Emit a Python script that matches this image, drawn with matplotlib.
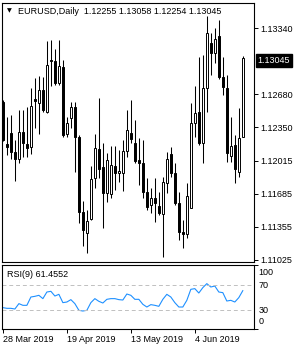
import matplotlib
matplotlib.use('Agg')
import matplotlib.pyplot as plt
import matplotlib.transforms as mtransforms
import numpy as np

# EURUSD daily bars, 28 Mar 2019 .. 20 Jun 2019
opens = [1.12600, 1.12180, 1.12290, 1.12100, 1.12030, 1.12300, 1.12180, 1.12150, 1.12630, 1.12590,
         1.12720, 1.12500, 1.13020, 1.13010, 1.12790, 1.12950, 1.12280, 1.12440, 1.12550, 1.12250,
         1.11500, 1.11290, 1.11430, 1.11840, 1.12130, 1.11950, 1.11690, 1.11680, 1.11960, 1.11890,
         1.11890, 1.12110, 1.12290, 1.12190, 1.12020, 1.11990, 1.11700, 1.11570, 1.11640, 1.11560,
         1.11480, 1.11790, 1.12080, 1.11890, 1.11590, 1.11300, 1.11280, 1.11540, 1.12390, 1.12500,
         1.12190, 1.12740, 1.13190, 1.13090, 1.13260, 1.12850, 1.12740, 1.12060, 1.12170, 1.11900,
         1.12255]
highs = [1.12620, 1.12450, 1.12470, 1.12220, 1.12520, 1.12520, 1.12550, 1.12740, 1.12840, 1.12860,
         1.12850, 1.13210, 1.13220, 1.13130, 1.13220, 1.13020, 1.12450, 1.12600, 1.12600, 1.12270,
         1.11610, 1.11520, 1.11960, 1.12280, 1.12640, 1.12190, 1.12090, 1.12160, 1.12160, 1.12120,
         1.12220, 1.12520, 1.12620, 1.12420, 1.12240, 1.12220, 1.11840, 1.11740, 1.11840, 1.11700,
         1.11850, 1.12100, 1.12150, 1.11990, 1.11700, 1.11420, 1.11790, 1.12590, 1.12760, 1.13050,
         1.13070, 1.13460, 1.13290, 1.13340, 1.13420, 1.13050, 1.12870, 1.12450, 1.12270, 1.12540,
         1.13058]
lows = [1.12210, 1.12070, 1.12030, 1.11810, 1.11990, 1.12050, 1.12050, 1.12080, 1.12340, 1.12280,
        1.12500, 1.12490, 1.12760, 1.12770, 1.12770, 1.12250, 1.12250, 1.12340, 1.11900, 1.11390,
        1.11160, 1.11090, 1.11420, 1.11740, 1.11840, 1.11340, 1.11600, 1.11640, 1.11720, 1.11800,
        1.11710, 1.12050, 1.12190, 1.11990, 1.11770, 1.11640, 1.11520, 1.11490, 1.11400, 1.11470,
        1.11050, 1.11690, 1.11850, 1.11570, 1.11220, 1.11140, 1.11240, 1.11540, 1.12250, 1.12170,
        1.11990, 1.12500, 1.12870, 1.12990, 1.12830, 1.12670, 1.12000, 1.12000, 1.11790, 1.11850,
        1.12254]
closes = [1.12220, 1.12150, 1.12100, 1.12030, 1.12300, 1.12190, 1.12140, 1.12560, 1.12610, 1.12720,
          1.12520, 1.12970, 1.13010, 1.12790, 1.12960, 1.12270, 1.12390, 1.12550, 1.12250, 1.11500,
          1.11320, 1.11410, 1.11830, 1.12140, 1.11930, 1.11690, 1.12020, 1.11970, 1.11890, 1.11910,
          1.12110, 1.12320, 1.12230, 1.12010, 1.11990, 1.11700, 1.11550, 1.11640, 1.11590, 1.11490,
          1.11800, 1.12030, 1.11890, 1.11590, 1.11300, 1.11280, 1.11660, 1.12390, 1.12490, 1.12190,
          1.12740, 1.13290, 1.13090, 1.13230, 1.12850, 1.12750, 1.12090, 1.12160, 1.11930, 1.12240,
          1.13045]

rsi_values = [34.3, 33.2, 33.2, 32.1, 40.7, 38.0, 38.0, 51.3, 52.4, 54.0,
              48.7, 59.3, 60.4, 52.9, 55.6, 42.3, 43.3, 47.1, 40.7, 30.0,
              28.9, 30.0, 42.3, 48.7, 44.4, 41.7, 47.6, 48.7, 48.7, 47.1,
              46.5, 56.1, 54.0, 47.6, 47.6, 39.6, 35.3, 39.1, 38.0, 36.4,
              47.6, 55.6, 51.3, 42.3, 35.3, 35.3, 46.0, 63.6, 64.7, 57.7,
              66.3, 72.7, 67.3, 68.9, 59.3, 58.3, 44.9, 46.0, 43.3, 50.3,
              61.4552]

# 1.13010 sits under the current-price box, so it is left out
price_ticks = [1.13340, 1.12680, 1.12350, 1.12015, 1.11685, 1.11355, 1.11025]
date_ticks = [0, 16, 32, 48]
date_labels = ['28 Mar 2019', '19 Apr 2019', '13 May 2019', '4 Jun 2019']
rsi_levels = [70, 30]
rsi_labels = ['100', '70', '30', '0']

plt.rcParams['font.family'] = ['Liberation Sans', 'DejaVu Sans']
plt.rcParams['font.size'] = 6.5

fig = plt.figure(figsize=(3, 3.5), dpi=100)
W, H = 300.0, 350.0

# main price panel and RSI panel (pixel positions from the reference)
ax = fig.add_axes([2.3 / W, 1 - 261.5 / H, (254 - 2.3) / W, (261.5 - 2.7) / H])
ax_rsi = fig.add_axes([2.3 / W, 1 - 328.7 / H, (254 - 2.3) / W, (328.7 - 264.7) / H])

o = np.array(opens)
c = np.array(closes)
x = np.arange(len(c))
up = c >= o

# candles: wicks first, bodies on top
ax.vlines(x, lows, highs, color='black', linewidth=0.75, zorder=2)
body_bottom = np.minimum(o, c)
body_height = np.maximum(np.abs(c - o), 0.00002)
ax.bar(x, body_height, bottom=body_bottom, width=0.5,
       color=['white' if u else 'black' for u in up],
       edgecolor='black', linewidth=0.7, zorder=3)

ax.set_xlim(-0.15, 62.8)
ax.set_ylim(1.11005, 1.13593)
ax.set_xticks([])
ax.set_yticks(price_ticks)
ax.set_yticklabels([f'{p:.5f}' for p in price_ticks])
ax.yaxis.tick_right()
ax.tick_params(axis='y', direction='out', length=3, width=0.7, pad=1.5, colors='black')
for s in ax.spines.values():
    s.set_linewidth(0.8)
    s.set_color('black')

# current price box
trans = mtransforms.blended_transform_factory(ax.transAxes, ax.transData)
ax.annotate(f'{closes[-1]:.5f}', xy=(1, closes[-1]), xycoords=trans,
            xytext=(2.6, -2.2), textcoords='offset points', ha='left', va='center',
            color='white', fontsize=6.5, annotation_clip=False, zorder=10,
            bbox=dict(boxstyle='square,pad=0.22', fc='black', ec='black'))

# header text
fig.text(7 / W, 1 - 11 / H, '\u25bc', fontsize=4.5, family='DejaVu Sans', va='center', ha='left')
fig.text(18 / W, 1 - 11.5 / H,
         f'EURUSD,Daily  {opens[-1]:.5f} {highs[-1]:.5f} {lows[-1]:.5f} {closes[-1]:.5f}',
         va='center', ha='left', color='black')

# RSI panel
ax_rsi.plot(x, rsi_values, color='#1E90FF', linewidth=0.8)
for lvl in rsi_levels:
    ax_rsi.axhline(lvl, color='#c0c0c0', linewidth=0.7, dashes=(4, 3))
ax_rsi.set_xlim(-0.15, 62.8)
ax_rsi.set_ylim(0.6, 103)
ax_rsi.set_yticks([0.6, 103])
ax_rsi.set_yticklabels(['', ''])
ax_rsi.yaxis.tick_right()
ax_rsi.tick_params(axis='y', direction='out', length=3, width=0.7)
ax_rsi.set_xticks(date_ticks)
ax_rsi.set_xticklabels(date_labels, ha='left')
ax_rsi.tick_params(axis='x', direction='out', length=3, width=0.7, pad=1.5)
for s in ax_rsi.spines.values():
    s.set_linewidth(0.8)
    s.set_color('black')

for lbl, ypix in zip(rsi_labels, [272.7, 285.5, 310.5, 322.0]):
    fig.text(258.5 / W, 1 - ypix / H, lbl, va='center', ha='left')

fig.text(7 / W, 1 - 274.7 / H, f'RSI(9) {rsi_values[-1]:.4f}', va='center', ha='left')

fig.savefig('out.png', dpi=100)
